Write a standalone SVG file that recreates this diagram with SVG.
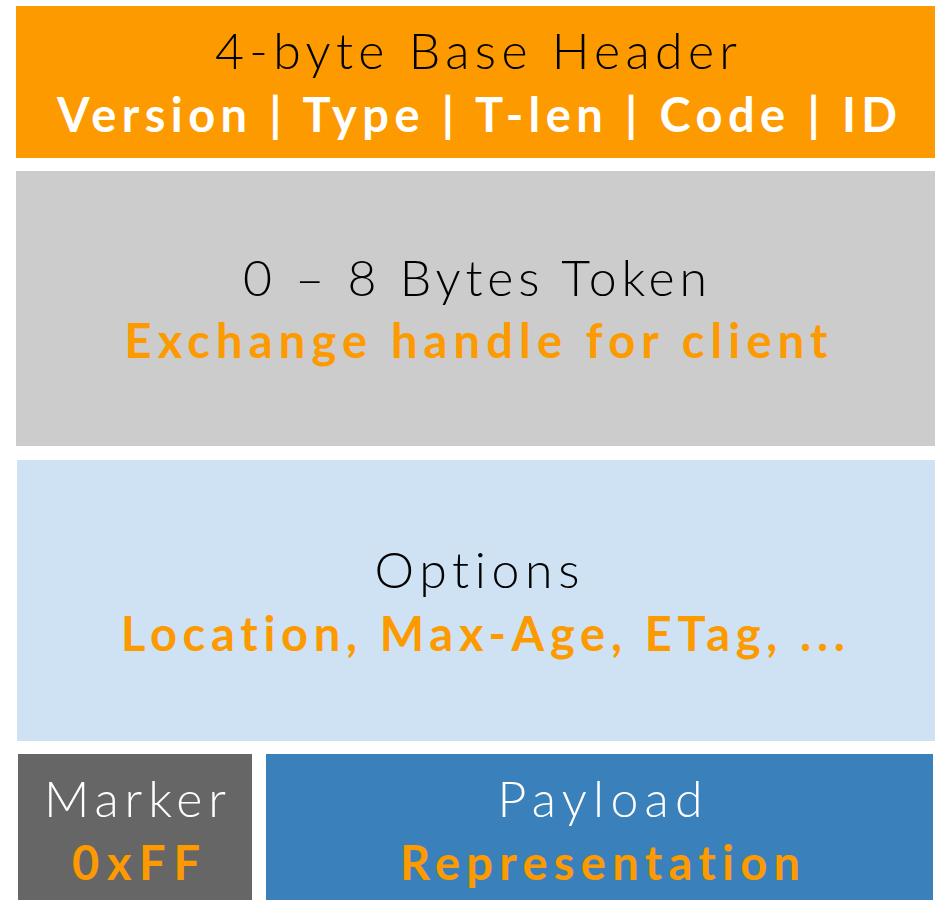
<svg xmlns="http://www.w3.org/2000/svg" width="940" height="900" viewBox="0 0 940 900">
<style>
.t{font-family:Lato,"Open Sans","Liberation Sans",sans-serif;font-weight:300;font-size:50px;text-anchor:middle;font-variant-ligatures:none}
.b{font-family:Lato,"Open Sans","Liberation Sans",sans-serif;font-weight:700;font-size:47px;text-anchor:middle;font-variant-ligatures:none}
</style>
<rect width="940" height="900" fill="#ffffff"/>
<g id="header">
<rect x="16" y="6" width="919" height="152" fill="#FD9A00"/>
<text class="t" x="476" y="69" fill="#000" textLength="522" lengthAdjust="spacing">4-byte Base Header</text>
<text class="b" x="477" y="132" fill="#fff" textLength="840" lengthAdjust="spacing">Version | Type | T-len | Code | ID</text>
</g>
<g id="token">
<rect x="16" y="171" width="919" height="275" fill="#CCCCCC"/>
<text class="t" x="475" y="296" fill="#000" textLength="464" lengthAdjust="spacing">0 – 8 Bytes Token</text>
<text class="b" x="476" y="358" fill="#FD9A00" textLength="703" lengthAdjust="spacing">Exchange handle for client</text>
</g>
<g id="options">
<rect x="17" y="460" width="918" height="281" fill="#CFE2F3"/>
<text class="t" x="477" y="588" fill="#000" textLength="205" lengthAdjust="spacing">Options</text>
<text class="b" x="483" y="651" fill="#FD9A00" textLength="724" lengthAdjust="spacing">Location, Max-Age, ETag, ...</text>
</g>
<g id="marker">
<rect x="18" y="754" width="234" height="146" fill="#666666"/>
<text class="t" x="135" y="817" fill="#fff" textLength="182" lengthAdjust="spacing">Marker</text>
<text class="b" x="136" y="880" fill="#FD9A00" textLength="128" lengthAdjust="spacing">0xFF</text>
</g>
<g id="payload">
<rect x="266" y="754" width="667" height="146" fill="#3A80BA"/>
<text class="t" x="600" y="817" fill="#fff" textLength="205" lengthAdjust="spacing">Payload</text>
<text class="b" x="600" y="880" fill="#FD9A00" textLength="400" lengthAdjust="spacing">Representation</text>
</g>
<g id="connectors"/>
</svg>
